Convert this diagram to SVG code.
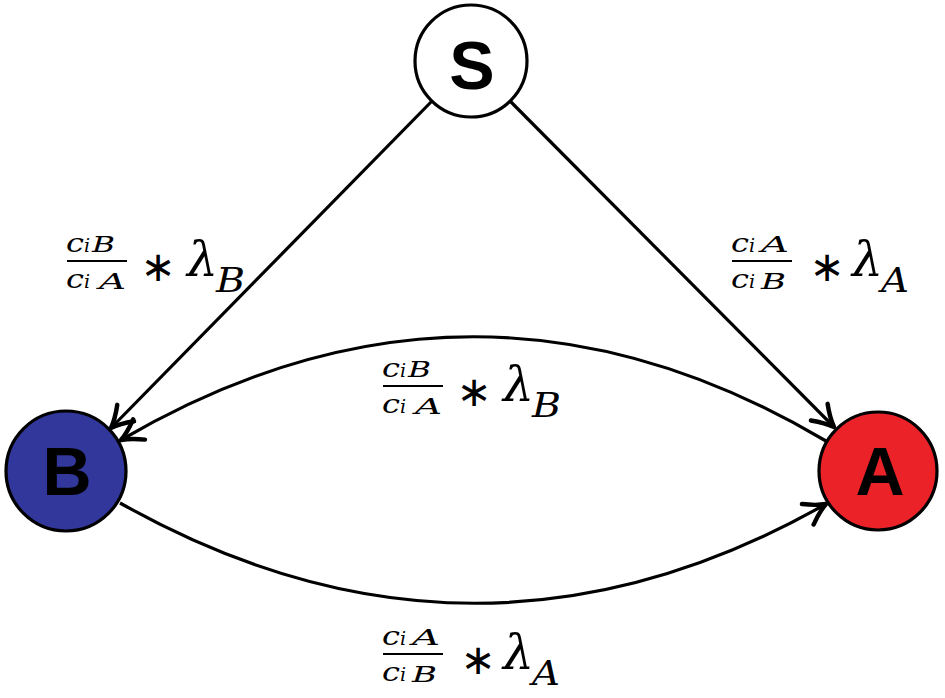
<svg xmlns="http://www.w3.org/2000/svg" width="945" height="698" viewBox="0 0 945 698">
<style>
.node{stroke:#000;stroke-width:3.2}
.nl{font-family:"Liberation Sans",Arial,sans-serif;font-weight:bold;font-size:68px;text-anchor:middle;fill:#000}
.edge{fill:none;stroke:#000;stroke-width:3.2}
.bar{stroke:#000;stroke-width:2}
.op{font-family:"DejaVu Sans",sans-serif;font-style:normal;font-size:42px;text-anchor:middle}
</style>
<defs>
<marker id="arr" markerUnits="userSpaceOnUse" markerWidth="34" markerHeight="34" viewBox="-20 -13 24 26" refX="0" refY="0" orient="auto">
<path d="M-16,-9 Q-7,-2.5 0,0 Q-7,2.5 -16,9" fill="none" stroke="#000" stroke-width="3.4" stroke-linejoin="round" stroke-linecap="round"/>
</marker>
</defs>
<rect width="945" height="698" fill="#fff"/>
<g id="connectors">
<line class="edge" x1="432" y1="101" x2="111" y2="428" marker-end="url(#arr)"/>
<line class="edge" x1="510" y1="101" x2="834" y2="427" marker-end="url(#arr)"/>
<path class="edge" d="M826,441 Q475,233 121,440" marker-end="url(#arr)"/>
<path class="edge" d="M120,503 Q475,703 826,504" marker-end="url(#arr)"/>
</g>
<g id="node-S"><circle class="node" cx="471" cy="61" r="56" fill="#fff"/><text class="nl" x="472" y="89">S</text></g>
<g id="node-B"><circle class="node" cx="66" cy="471" r="60" fill="#31379B"/><text class="nl" x="67" y="495">B</text></g>
<g id="node-A"><circle class="node" cx="878" cy="471" r="59" fill="#EC2229"/><text class="nl" x="880" y="495">A</text></g>
<g id="labels" font-family="DejaVu Serif, serif" font-style="italic" fill="#000">
<g id="label-SB">
<text x="66" y="252" font-size="26" textLength="18" lengthAdjust="spacingAndGlyphs">c</text>
<text x="84" y="252" font-size="19">i</text>
<text x="92" y="252" font-size="22" textLength="23" lengthAdjust="spacingAndGlyphs">B</text>
<line class="bar" x1="67" y1="261" x2="127" y2="261"/>
<text x="66" y="288" font-size="26" textLength="18" lengthAdjust="spacingAndGlyphs">c</text>
<text x="84" y="288" font-size="19">i</text>
<text x="99" y="289" font-size="22" textLength="27" lengthAdjust="spacingAndGlyphs">A</text>
<text class="op" x="158" y="281">∗</text>
<text x="187" y="276" font-size="49">λ</text>
<text x="216" y="292" font-size="34" textLength="29" lengthAdjust="spacingAndGlyphs">B</text>
</g>
<g id="label-SA" transform="translate(665,0)">
<text x="66" y="252" font-size="26" textLength="18" lengthAdjust="spacingAndGlyphs">c</text>
<text x="84" y="252" font-size="19">i</text>
<text x="96" y="252" font-size="22" textLength="28" lengthAdjust="spacingAndGlyphs">A</text>
<line class="bar" x1="67" y1="261" x2="127" y2="261"/>
<text x="66" y="288" font-size="26" textLength="18" lengthAdjust="spacingAndGlyphs">c</text>
<text x="84" y="288" font-size="19">i</text>
<text x="96" y="289" font-size="22" textLength="25" lengthAdjust="spacingAndGlyphs">B</text>
<text class="op" x="162" y="281">∗</text>
<text x="187" y="276" font-size="49">λ</text>
<text x="216" y="292" font-size="34" textLength="28" lengthAdjust="spacingAndGlyphs">A</text>
</g>
<g id="label-AB" transform="translate(316,125)">
<text x="66" y="252" font-size="26" textLength="18" lengthAdjust="spacingAndGlyphs">c</text>
<text x="84" y="252" font-size="19">i</text>
<text x="92" y="252" font-size="22" textLength="23" lengthAdjust="spacingAndGlyphs">B</text>
<line class="bar" x1="67" y1="261" x2="127" y2="261"/>
<text x="66" y="288" font-size="26" textLength="18" lengthAdjust="spacingAndGlyphs">c</text>
<text x="84" y="288" font-size="19">i</text>
<text x="99" y="289" font-size="22" textLength="27" lengthAdjust="spacingAndGlyphs">A</text>
<text class="op" x="158" y="281">∗</text>
<text x="187" y="276" font-size="49">λ</text>
<text x="216" y="292" font-size="34" textLength="29" lengthAdjust="spacingAndGlyphs">B</text>
</g>
<g id="label-BA" transform="translate(316,393)">
<text x="66" y="252" font-size="26" textLength="18" lengthAdjust="spacingAndGlyphs">c</text>
<text x="84" y="252" font-size="19">i</text>
<text x="96" y="252" font-size="22" textLength="28" lengthAdjust="spacingAndGlyphs">A</text>
<line class="bar" x1="67" y1="261" x2="127" y2="261"/>
<text x="66" y="288" font-size="26" textLength="18" lengthAdjust="spacingAndGlyphs">c</text>
<text x="84" y="288" font-size="19">i</text>
<text x="96" y="289" font-size="22" textLength="25" lengthAdjust="spacingAndGlyphs">B</text>
<text class="op" x="162" y="281">∗</text>
<text x="187" y="276" font-size="49">λ</text>
<text x="216" y="292" font-size="34" textLength="28" lengthAdjust="spacingAndGlyphs">A</text>
</g>
</g>
</svg>
